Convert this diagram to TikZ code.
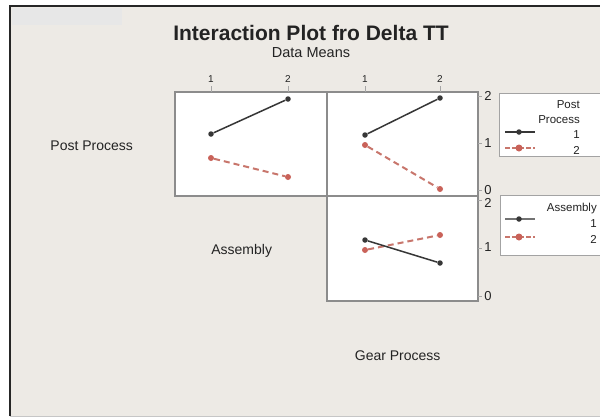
\documentclass[tikz,border=0pt]{standalone}
\usepackage{fontspec}
\setmainfont{Liberation Sans}
\definecolor{bg}{RGB}{237,234,229}
\definecolor{strip}{RGB}{231,231,231}
\definecolor{blk}{RGB}{55,55,55}
\definecolor{rdl}{RGB}{200,118,108}
\definecolor{rdd}{RGB}{192,70,60}
\definecolor{pframe}{RGB}{140,140,140}
\definecolor{txt}{RGB}{35,35,35}
\tikzset{
  panel/.style={draw=pframe, line width=1.3pt, fill=white},
  legbox/.style={draw=pframe!80, line width=1pt, fill=white},
  bdot/.style={circle, fill=blk, inner sep=0pt, minimum size=5.5pt},
  rdot/.style={circle, fill=rdd!85, inner sep=0pt, minimum size=6pt},
  bline/.style={draw=blk, line width=1.5pt},
  rline/.style={draw=rdl, line width=2pt, dash pattern=on 6pt off 4pt},
  lab/.style={font=\fontsize{14}{16}\selectfont, text=txt},
  toptick/.style={font=\fontsize{10}{12}\selectfont, text=txt},
  axlab/.style={font=\fontsize{13}{15}\selectfont, text=txt, inner sep=0pt},
  legtxt/.style={font=\fontsize{11.5}{13}\selectfont, text=txt, anchor=base east, inner sep=0pt},
  tk/.style={draw=gray!70, line width=0.8pt}
}
\begin{document}
\begin{tikzpicture}[x=1pt,y=-1pt]
\useasboundingbox (0,0) rectangle (600,418);
\fill[white] (0,0) rectangle (600,418);
\fill[bg] (10,6) rectangle (600,416);
\fill[strip] (12,8) rectangle (122,25);
\draw[black!85, line width=1.2pt] (10,416) -- (10,6) -- (600,6);
\draw[gray!45, line width=1pt] (10,416) -- (600,416);

% titles
\node[font=\bfseries\fontsize{21}{24}\selectfont, text=txt, anchor=base] (title) at (311,40.7) {Interaction Plot fro Delta TT};
\node[font=\fontsize{14.5}{16}\selectfont, text=txt, anchor=base] (sub) at (311,57.7) {Data Means};

% panels
\draw[panel] (175,92) rectangle (327,196);
\draw[panel] (327,92) rectangle (478,196);
\draw[panel] (327,196) rectangle (478,301);

% top ticks
\foreach \xx in {211,288,365,440} \draw[tk] (\xx,86) -- (\xx,92);
\node[toptick] (t1) at (211,79) {1};
\node[toptick] (t2) at (288,79) {2};
\node[toptick] (t3) at (365,79) {1};
\node[toptick] (t4) at (440,79) {2};

% right axis
\foreach \yy in {96,143,190,200,248,296} \draw[tk] (478,\yy) -- (482,\yy);
\node[axlab] (a1) at (488,95.7) {2};
\node[axlab] (a2) at (488,143) {1};
\node[axlab] (a3) at (488,190) {0};
\node[axlab] (a4) at (488,203) {2};
\node[axlab] (a5) at (488,247) {1};
\node[axlab] (a6) at (488,296) {0};

% row / column labels
\node[lab] (lpp) at (91.7,146) {Post Process};
\node[lab] (las) at (241.7,251) {Assembly};
\node[lab] (lgp) at (397.7,356) {Gear Process};

% panel 1
\node[bdot] (p1b1) at (211,134) {};
\node[bdot] (p1b2) at (288,99) {};
\node[rdot] (p1r1) at (211,158) {};
\node[rdot] (p1r2) at (288,177) {};
\draw[bline] (p1b1) -- (p1b2);
\draw[rline] (p1r1) -- (p1r2);

% panel 2
\node[bdot] (p2b1) at (365,135) {};
\node[bdot] (p2b2) at (440,98) {};
\node[rdot] (p2r1) at (365,145) {};
\node[rdot] (p2r2) at (440,189) {};
\draw[bline] (p2b1) -- (p2b2);
\draw[rline] (p2r1) -- (p2r2);

% panel 3
\node[bdot] (p3b1) at (365,240) {};
\node[bdot] (p3b2) at (440,263) {};
\node[rdot] (p3r1) at (365,250) {};
\node[rdot] (p3r2) at (440,235) {};
\draw[rline] (p3r1) -- (p3r2);
\draw[bline] (p3b1) -- (p3b2);

% legend 1
\draw[legbox] (499,93) rectangle (603,156);
\node[legtxt] (l1a) at (580,108) {Post};
\node[legtxt] (l1b) at (580,123) {Process};
\node[legtxt] (l1c) at (580,138) {1};
\node[legtxt] (l1d) at (580,154) {2};
\coordinate (g1a) at (505,132); \coordinate (g1b) at (535,132);
\coordinate (g1c) at (505,148); \coordinate (g1d) at (535,148);
\draw[draw=blk, line width=1.2pt] (g1a) -- (g1b);
\draw[draw=rdl, line width=1.5pt, dash pattern=on 5pt off 2pt] (g1c) -- (g1d);
\node[bdot] (m1a) at (519,132) {};
\node[rdot, minimum size=7pt] (m1b) at (519,148) {};

% legend 2
\draw[legbox] (500,195) rectangle (603,255);
\node[legtxt] (l2a) at (597,211) {Assembly};
\node[legtxt] (l2b) at (597,227) {1};
\node[legtxt] (l2c) at (597,243) {2};
\coordinate (g2a) at (505,219); \coordinate (g2b) at (535,219);
\coordinate (g2c) at (505,237); \coordinate (g2d) at (535,237);
\draw[draw=blk!70, line width=1.2pt] (g2a) -- (g2b);
\draw[draw=rdl, line width=1.5pt, dash pattern=on 5pt off 2pt] (g2c) -- (g2d);
\node[bdot] (m2a) at (519,219) {};
\node[rdot, minimum size=7pt] (m2b) at (519,237) {};
\end{tikzpicture}
\end{document}
